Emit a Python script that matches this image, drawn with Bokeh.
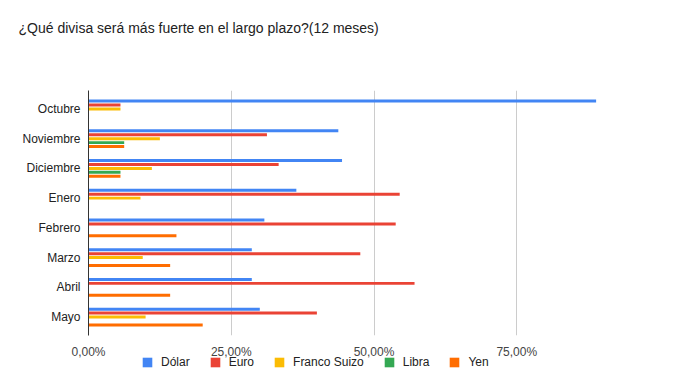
from bokeh.plotting import figure
from bokeh.layouts import column
from bokeh.models import ColumnDataSource, FactorRange, FixedTicker, Legend, LegendItem
from bokeh.transform import dodge
from bokeh.embed import file_html
from bokeh.resources import INLINE

title_text = "¿Qué divisa será más fuerte en el largo plazo?(12 meses)"
categories = ["Octubre", "Noviembre", "Diciembre", "Enero", "Febrero", "Marzo", "Abril", "Mayo"]
dolar = [0.889, 0.4375, 0.444, 0.364, 0.308, 0.286, 0.286, 0.30]
euro = [0.056, 0.3125, 0.333, 0.545, 0.538, 0.476, 0.571, 0.40]
franco = [0.056, 0.125, 0.111, 0.091, 0.0, 0.095, 0.0, 0.10]
libra = [0.0, 0.0625, 0.056, 0.0, 0.0, 0.0, 0.0, 0.0]
yen = [0.0, 0.0625, 0.056, 0.0, 0.154, 0.143, 0.143, 0.20]
series_names = ["Dólar", "Euro", "Franco Suizo", "Libra", "Yen"]
colors = ["#4285F4", "#EA4335", "#FBBC04", "#34A853", "#FF6D01"]
x_ticks = [0, 0.25, 0.5, 0.75, 1.0]
x_tick_labels = {0: "0,00%", 0.25: "25,00%", 0.5: "50,00%", 0.75: "75,00%", 1.0: ""}

FONT = "Liberation Sans"
W = 668

# title strip
tp = figure(width=W, height=41, output_backend="svg", toolbar_location=None,
            x_range=(0, 1), y_range=(0, 1),
            min_border_left=0, min_border_right=0, min_border_top=40, min_border_bottom=0)
tp.axis.visible = False
tp.grid.visible = False
tp.outline_line_color = None
tp.title.text = title_text
tp.title.text_font = FONT
tp.title.text_font_size = "14px"
tp.title.text_font_style = "normal"
tp.title.text_color = "#222222"
tp.title.align = "left"
tp.title.offset = -70
tp.title.standoff = 10

src = ColumnDataSource(dict(cat=categories, d=dolar, e=euro, f=franco, l=libra, y=yen))

p = figure(
    width=W, height=320,
    y_range=FactorRange(factors=list(reversed(categories)), range_padding=0.03),
    x_range=(0, 1),
    output_backend="svg", toolbar_location=None,
    min_border_left=88, min_border_right=9, min_border_top=49, min_border_bottom=23,
)

offsets = [0.266, 0.133, 0.0, -0.133, -0.266]
cols = ["d", "e", "f", "l", "y"]
for col, off, c in zip(cols, offsets, colors):
    p.hbar(y=dodge("cat", off, range=p.y_range), right=col, left=0, height=0.1,
           source=src, color=c, line_color=None)

p.outline_line_color = None
p.ygrid.grid_line_color = None
p.xgrid.grid_line_color = "#cccccc"
p.xaxis.ticker = FixedTicker(ticks=x_ticks)
p.xaxis.major_label_overrides = x_tick_labels
p.xaxis.axis_line_color = None
p.xaxis.major_tick_line_color = None
p.xaxis.minor_tick_line_color = None
p.xaxis.major_tick_out = 0
p.xaxis.major_tick_in = 0
p.xaxis.minor_tick_out = 0
p.xaxis.major_label_standoff = 9
p.xaxis.major_label_text_font = FONT
p.xaxis.major_label_text_font_size = "12px"
p.xaxis.major_label_text_color = "#444444"

p.yaxis.axis_line_color = "#333333"
p.yaxis.major_tick_line_color = None
p.yaxis.minor_tick_line_color = None
p.yaxis.major_tick_out = 0
p.yaxis.major_tick_in = 0
p.yaxis.minor_tick_out = 0
p.yaxis.major_label_standoff = 8
p.yaxis.major_label_text_font = FONT
p.yaxis.major_label_text_font_size = "12px"
p.yaxis.major_label_text_color = "#222222"

# legend strip
lg = figure(width=W, height=16, output_backend="svg", toolbar_location=None,
            x_range=(0, 1), y_range=(0, 1),
            min_border_left=0, min_border_right=0, min_border_top=0, min_border_bottom=0)
lg.axis.visible = False
lg.grid.visible = False
lg.outline_line_color = None
lg.background_fill_alpha = 0
lg.border_fill_alpha = 0
lg.margin = (-6, 0, 0, 0)
lsrc = ColumnDataSource(dict(left=[-2.0], right=[-1.0], bottom=[-2.0], top=[-1.0]))
items = []
for n, c in zip(series_names, colors):
    r = lg.quad(left="left", right="right", bottom="bottom", top="top", source=lsrc,
                fill_color=c, line_color=None)
    items.append(LegendItem(label=n, renderers=[r]))
legend = Legend(
    items=items, orientation="horizontal", location=(53, 2),
    padding=0, margin=0, spacing=19, glyph_width=12, glyph_height=12,
    label_standoff=8, label_text_font=FONT, label_text_font_size="12px",
    label_text_color="#222222", border_line_color=None, background_fill_alpha=0,
    label_height=12, label_text_baseline="middle",
)
lg.add_layout(legend, "center")

layout = column(tp, p, lg, spacing=0)
open("out.html", "w").write(file_html(layout, INLINE))
